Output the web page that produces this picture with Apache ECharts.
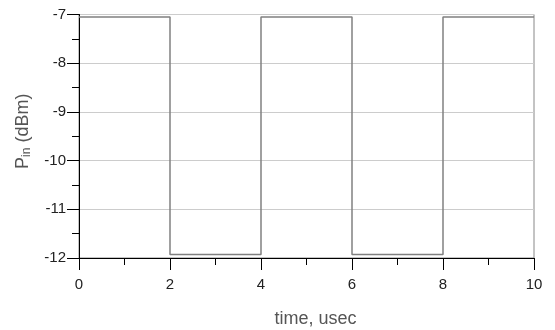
<!DOCTYPE html>
<html>
<head>
<meta charset="utf-8">
<script src="https://cdn.jsdelivr.net/npm/echarts@6/dist/echarts.min.js"></script>
<style>html,body{margin:0;padding:0;background:#fff}#c{width:555px;height:330px}</style>
</head>
<body>
<div id="c"></div>
<script>
const times = [0, 2, 4, 6, 8, 10];
const pinValues = [-7.05, -11.93, -7.05, -11.93, -7.05, -7.05];
const xTicks = [0, 2, 4, 6, 8, 10];
const yTicks = [-12, -11, -10, -9, -8, -7];

const chart = echarts.init(document.getElementById('c'), null, {renderer: 'canvas'});
const font = 'Liberation Sans, Arial, sans-serif';
chart.setOption({
  animation: false,
  grid: {left: 79, right: 21, top: 14.5, bottom: 72, outerBoundsMode: 'none', containLabel: false,
    show: true, borderColor: '#888', borderWidth: 1, backgroundColor: 'transparent'},
  xAxis: {
    type: 'value', min: xTicks[0], max: xTicks[xTicks.length - 1], interval: 2,
    name: 'time, usec', nameLocation: 'middle', nameGap: 52,
    nameTextStyle: {fontFamily: font, fontSize: 18, color: '#555', padding: [0, 0, 0, 18]},
    axisLine: {onZero: false, lineStyle: {color: '#000', width: 1}},
    axisTick: {show: true, length: 12, lineStyle: {color: '#000'}},
    minorTick: {show: true, splitNumber: 2, length: 7, lineStyle: {color: '#000'}},
    axisLabel: {fontFamily: font, fontSize: 15, color: '#222', margin: 19},
    splitLine: {show: false}
  },
  yAxis: {
    type: 'value', min: yTicks[0], max: yTicks[yTicks.length - 1], interval: 1,
    name: 'P{sub|in} (dBm)', nameLocation: 'middle', nameGap: 46,
    nameTextStyle: {fontFamily: font, fontSize: 18, color: '#555', padding: [0, 0, 0, 10],
      rich: {sub: {fontFamily: font, fontSize: 12, color: '#555', verticalAlign: 'bottom', padding: [8, 0, 0, 0]}}},
    axisLine: {show: true, lineStyle: {color: '#000', width: 1}},
    axisTick: {show: true, length: 12, lineStyle: {color: '#000'}},
    minorTick: {show: true, splitNumber: 2, length: 7, lineStyle: {color: '#000'}},
    axisLabel: {fontFamily: font, fontSize: 15, color: '#222', margin: 13},
    splitLine: {show: true, lineStyle: {color: '#ccc', width: 1}}
  },
  series: [{
    type: 'line', step: 'end', symbol: 'none',
    data: times.map((t, i) => [t, pinValues[i]]),
    lineStyle: {color: '#808080', width: 1.5}
  }]
});
</script>
</body>
</html>
